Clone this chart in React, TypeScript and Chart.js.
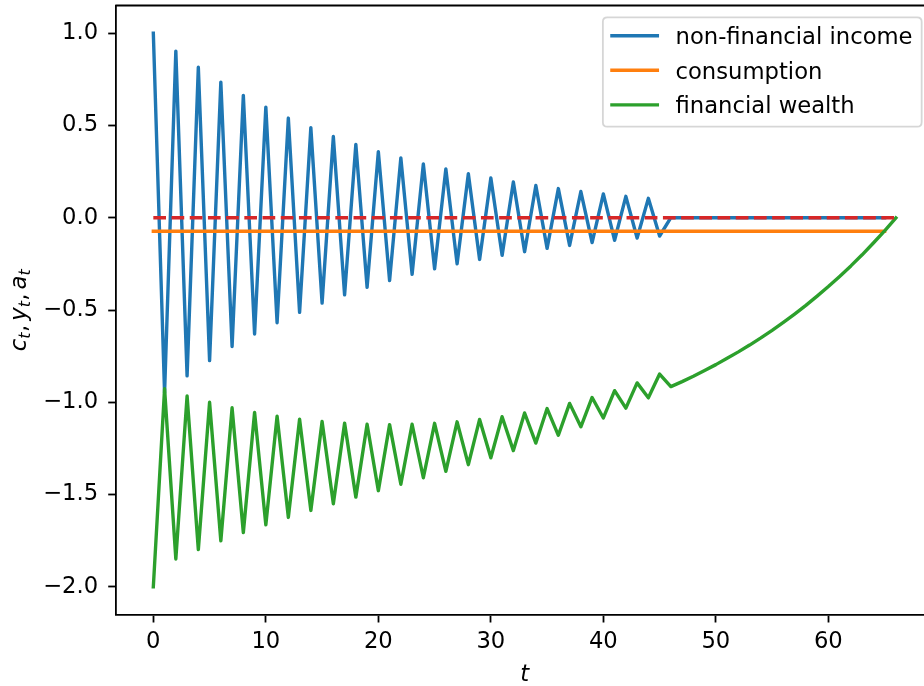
import React, { useEffect, useRef } from "react";
import { Chart, registerables } from "chart.js";

Chart.register(...registerables);

// ---------- data ----------
const seriesLabels = ["non-financial income", "consumption", "financial wealth"];

// non-financial income y_t, t = 0..65
const incomeValues = [
  1.0, -0.95, 0.903, -0.857, 0.815, -0.774, 0.735, -0.698, 0.663, -0.63,
  0.599, -0.569, 0.54, -0.513, 0.488, -0.463, 0.44, -0.418, 0.397, -0.377,
  0.358, -0.341, 0.324, -0.307, 0.292, -0.277, 0.264, -0.25, 0.238, -0.226,
  0.215, -0.204, 0.194, -0.184, 0.175, -0.166, 0.158, -0.15, 0.142, -0.135,
  0.129, -0.122, 0.116, -0.11, 0.105, -0.099, 0, 0, 0, 0,
  0, 0, 0, 0, 0, 0, 0, 0, 0, 0,
  0, 0, 0, 0, 0, 0,
];

// consumption c_t, t = 0..65
const consumptionValues = [
  -0.073, -0.073, -0.073, -0.073, -0.073, -0.073, -0.073, -0.073, -0.073, -0.073,
  -0.073, -0.073, -0.073, -0.073, -0.073, -0.073, -0.073, -0.073, -0.073, -0.073,
  -0.073, -0.073, -0.073, -0.073, -0.073, -0.073, -0.073, -0.073, -0.073, -0.073,
  -0.073, -0.073, -0.073, -0.073, -0.073, -0.073, -0.073, -0.073, -0.073, -0.073,
  -0.073, -0.073, -0.073, -0.073, -0.073, -0.073, -0.073, -0.073, -0.073, -0.073,
  -0.073, -0.073, -0.073, -0.073, -0.073, -0.073, -0.073, -0.073, -0.073, -0.073,
  -0.073, -0.073, -0.073, -0.073, -0.073, -0.073,
];

// financial wealth a_t, t = 0..66
const wealthValues = [
  -2.0, -0.927, -1.849, -0.966, -1.798, -1.0, -1.751, -1.03, -1.706, -1.055,
  -1.664, -1.075, -1.624, -1.092, -1.586, -1.104, -1.55, -1.113, -1.514, -1.119,
  -1.479, -1.121, -1.444, -1.119, -1.409, -1.114, -1.374, -1.106, -1.338, -1.093,
  -1.301, -1.078, -1.262, -1.058, -1.221, -1.034, -1.179, -1.006, -1.133, -0.974,
  -1.085, -0.937, -1.032, -0.895, -0.976, -0.847, -0.915, -0.888, -0.859, -0.828,
  -0.796, -0.762, -0.727, -0.69, -0.651, -0.61, -0.567, -0.522, -0.475, -0.425,
  -0.373, -0.318, -0.261, -0.201, -0.137, -0.071, -0.001,
];

// dashed zero reference line
const zeroRefPeriods = [0, 66];
const zeroRefValues = [0, 0];

const xMin = -3.3;
const xMax = 69.3;
const yMin = -2.15;
const yMax = 1.15;
const xTicks = [0, 10, 20, 30, 40, 50, 60];
const xTickLabels = ["0", "10", "20", "30", "40", "50", "60"];
const yTicks = [1.0, 0.5, 0.0, -0.5, -1.0, -1.5, -2.0];
const yTickLabels = ["1.0", "0.5", "0.0", "\u22120.5", "\u22121.0", "\u22121.5", "\u22122.0"];

const xLabel = "t";
const yLabelParts = [
  { main: "c", sub: "t" },
  { main: "y", sub: "t" },
  { main: "a", sub: "t" },
];

const colors = ["#1f77b4", "#ff7f0e", "#2ca02c", "#d62728"];

// ---------- styling ----------
const FONT = '"DejaVu Sans"';
const FS = 22.7;
const LW = 3.4;
const SPINE = 1.8;

const decorPlugin = {
  id: "mplDecor",
  afterDraw(chart: any) {
    const ctx = chart.ctx as CanvasRenderingContext2D;
    const a = chart.chartArea;
    ctx.save();

    // top and right spines
    ctx.strokeStyle = "#000";
    ctx.lineWidth = SPINE;
    ctx.lineCap = "butt";
    ctx.beginPath();
    ctx.moveTo(a.left - SPINE / 2, a.top);
    ctx.lineTo(a.right + SPINE / 2, a.top);
    ctx.moveTo(a.right, a.top);
    ctx.lineTo(a.right, a.bottom);
    ctx.stroke();

    // x axis label
    ctx.fillStyle = "#000";
    ctx.font = `italic ${FS}px ${FONT}`;
    ctx.textAlign = "center";
    ctx.textBaseline = "alphabetic";
    ctx.fillText(xLabel, (a.left + a.right) / 2, a.bottom + 66);

    // y axis label (mathtext-like with subscripts)
    const pieces: { t: string; font: string; dy: number; after: number }[] = [];
    yLabelParts.forEach((p, i) => {
      pieces.push({ t: p.main, font: `italic ${FS}px ${FONT}`, dy: 0, after: 0 });
      pieces.push({ t: p.sub, font: `italic ${FS * 0.7}px ${FONT}`, dy: 4, after: 0.5 });
      if (i < yLabelParts.length - 1) {
        pieces.push({ t: ",", font: `${FS}px ${FONT}`, dy: 0, after: 4 });
      }
    });
    let total = 0;
    const widths = pieces.map((p) => {
      ctx.font = p.font;
      const w = ctx.measureText(p.t).width;
      total += w + p.after;
      return w;
    });
    ctx.save();
    ctx.translate(26, (a.top + a.bottom) / 2);
    ctx.rotate(-Math.PI / 2);
    ctx.textAlign = "left";
    ctx.textBaseline = "alphabetic";
    let px = -total / 2;
    pieces.forEach((p, i) => {
      ctx.font = p.font;
      ctx.fillText(p.t, px, p.dy);
      px += widths[i] + p.after;
    });
    ctx.restore();

    // legend
    const items = chart.data.datasets
      .filter((d: any) => d.label)
      .map((d: any) => ({ label: d.label as string, color: d.borderColor as string }));
    ctx.font = `${FS}px ${FONT}`;
    let maxW = 0;
    items.forEach((it: any) => {
      maxW = Math.max(maxW, ctx.measureText(it.label).width);
    });
    const pad = 0.4 * FS;
    const handleLen = 2 * FS;
    const handleGap = 0.8 * FS;
    const boxW = pad + handleLen + handleGap + maxW + pad;
    const boxH = 109.4;
    const boxRight = a.right - 0.5 * FS;
    const boxLeft = boxRight - boxW;
    const boxTop = a.top + 11.8;
    const r = 0.2 * FS;
    ctx.beginPath();
    ctx.moveTo(boxLeft + r, boxTop);
    ctx.lineTo(boxLeft + boxW - r, boxTop);
    ctx.quadraticCurveTo(boxLeft + boxW, boxTop, boxLeft + boxW, boxTop + r);
    ctx.lineTo(boxLeft + boxW, boxTop + boxH - r);
    ctx.quadraticCurveTo(boxLeft + boxW, boxTop + boxH, boxLeft + boxW - r, boxTop + boxH);
    ctx.lineTo(boxLeft + r, boxTop + boxH);
    ctx.quadraticCurveTo(boxLeft, boxTop + boxH, boxLeft, boxTop + boxH - r);
    ctx.lineTo(boxLeft, boxTop + r);
    ctx.quadraticCurveTo(boxLeft, boxTop, boxLeft + r, boxTop);
    ctx.closePath();
    ctx.fillStyle = "rgba(255,255,255,0.8)";
    ctx.fill();
    ctx.strokeStyle = "rgba(204,204,204,0.8)";
    ctx.lineWidth = 1.8;
    ctx.stroke();

    items.forEach((it: any, i: number) => {
      const hy = boxTop + 18.4 + i * 34.6;
      ctx.strokeStyle = it.color;
      ctx.lineWidth = LW;
      ctx.lineCap = "square";
      ctx.beginPath();
      ctx.moveTo(boxLeft + pad, hy);
      ctx.lineTo(boxLeft + pad + handleLen, hy);
      ctx.stroke();
      ctx.fillStyle = "#000";
      ctx.font = `${FS}px ${FONT}`;
      ctx.textAlign = "left";
      ctx.textBaseline = "alphabetic";
      ctx.fillText(it.label, boxLeft + pad + handleLen + handleGap, hy + 8.5);
    });

    ctx.restore();
  },
};

function toPoints(values: number[], periods?: number[]) {
  return values.map((v, i) => ({ x: periods ? periods[i] : i, y: v }));
}

export default function App() {
  const canvasRef = useRef<HTMLCanvasElement | null>(null);

  useEffect(() => {
    const canvas = canvasRef.current;
    if (!canvas) return;
    const common = {
      pointRadius: 0,
      pointHoverRadius: 0,
      tension: 0,
      borderWidth: LW,
      borderJoinStyle: "round" as const,
      borderCapStyle: "square" as const,
      fill: false,
    };
    const chart = new Chart(canvas, {
      type: "line",
      data: {
        datasets: [
          { ...common, label: seriesLabels[0], data: toPoints(incomeValues), borderColor: colors[0], backgroundColor: colors[0], order: 4 },
          { ...common, label: seriesLabels[1], data: toPoints(consumptionValues), borderColor: colors[1], backgroundColor: colors[1], order: 3 },
          { ...common, label: seriesLabels[2], data: toPoints(wealthValues), borderColor: colors[2], backgroundColor: colors[2], order: 2 },
          {
            ...common,
            label: "",
            data: toPoints(zeroRefValues, zeroRefPeriods),
            borderColor: colors[3],
            backgroundColor: colors[3],
            borderDash: [12.7, 5.5],
            borderCapStyle: "butt" as const,
            order: 1,
          },
        ],
      },
      options: {
        responsive: false,
        maintainAspectRatio: false,
        devicePixelRatio: 1,
        animation: false,
        events: [],
        layout: { padding: { top: 5.5, right: 1, bottom: 0, left: 0 } },
        plugins: {
          legend: { display: false },
          tooltip: { enabled: false },
          title: { display: false },
        },
        scales: {
          x: {
            type: "linear",
            min: xMin,
            max: xMax,
            afterBuildTicks: (s: any) => {
              s.ticks = xTicks.map((v) => ({ value: v }));
            },
            afterFit: (s: any) => {
              s.height = 71.5;
              s.paddingLeft = 0;
              s.paddingRight = 0;
              s.paddingTop = 0;
              s.paddingBottom = 0;
            },
            ticks: {
              autoSkip: false,
              maxRotation: 0,
              minRotation: 0,
              padding: 6,
              color: "#000",
              font: { family: "DejaVu Sans", size: FS },
              callback: (v: any) => {
                const i = xTicks.indexOf(Number(v));
                return i >= 0 ? xTickLabels[i] : "";
              },
            },
            grid: {
              drawOnChartArea: false,
              drawTicks: true,
              tickLength: 8,
              tickWidth: SPINE,
              tickColor: "#000",
            },
            border: { display: true, color: "#000", width: SPINE },
          },
          y: {
            type: "linear",
            min: yMin,
            max: yMax,
            afterBuildTicks: (s: any) => {
              s.ticks = yTicks.map((v) => ({ value: v }));
            },
            afterFit: (s: any) => {
              s.width = 116.2;
              s.paddingLeft = 0;
              s.paddingRight = 0;
              s.paddingTop = 0;
              s.paddingBottom = 0;
            },
            ticks: {
              autoSkip: false,
              padding: 10,
              color: "#000",
              font: { family: "DejaVu Sans", size: FS },
              callback: (v: any) => {
                const i = yTicks.indexOf(Number(v));
                return i >= 0 ? yTickLabels[i] : "";
              },
            },
            grid: {
              drawOnChartArea: false,
              drawTicks: true,
              tickLength: 8,
              tickWidth: SPINE,
              tickColor: "#000",
            },
            border: { display: true, color: "#000", width: SPINE },
          },
        },
      },
      plugins: [decorPlugin],
    });
    return () => chart.destroy();
  }, []);

  return (
    <div
      style={{
        position: "fixed",
        left: 0,
        top: 0,
        width: 924,
        height: 686,
        overflow: "hidden",
        background: "#fff",
      }}
    >
      <canvas ref={canvasRef} width={934} height={686} style={{ display: "block", width: 934, height: 686 }} />
    </div>
  );
}
